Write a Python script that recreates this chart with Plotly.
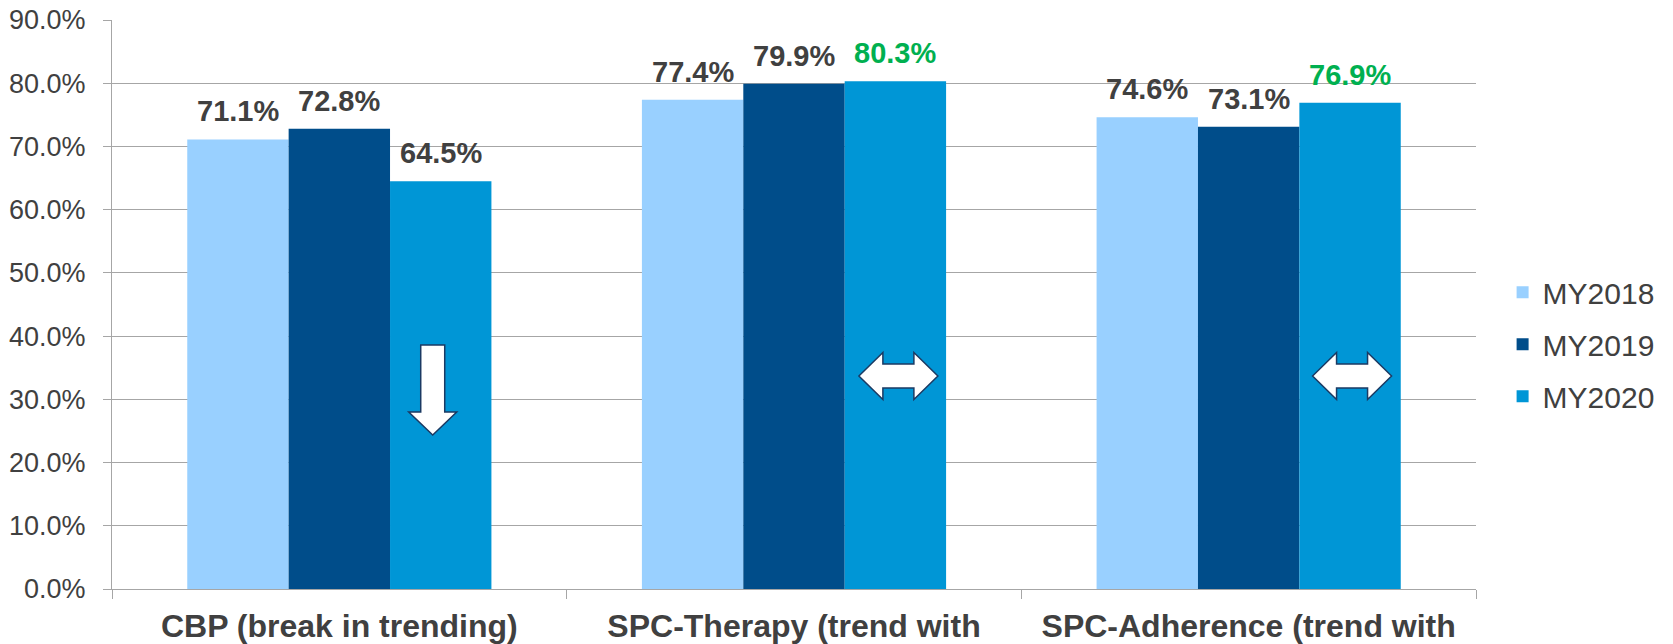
import plotly.graph_objects as go

categories = ["CBP (break in trending)", "SPC-Therapy (trend with", "SPC-Adherence (trend with"]
series_names = ["MY2018", "MY2019", "MY2020"]
my2018 = [0.711, 0.774, 0.746]
my2019 = [0.728, 0.799, 0.731]
my2020 = [0.645, 0.803, 0.769]
label_colors_2020 = ["#404040", "#00B050", "#00B050"]
colors = ["#99D0FF", "#004D8A", "#0096D6"]
y_ticks = [0, 0.1, 0.2, 0.3, 0.4, 0.5, 0.6, 0.7, 0.8, 0.9]

FONT = "Liberation Sans, Arial, sans-serif"
GRID = "#A6A6A6"
TEXT = "#404040"
BARGAP = 0.331

xs = list(range(len(categories)))
series = [my2018, my2019, my2020]

fig = go.Figure()
for name, vals, col in zip(series_names, series, colors):
    fig.add_trace(go.Bar(
        x=xs, y=vals, name=name, marker=dict(color=col, line=dict(width=0)),
        legendgroup=name, hoverinfo="skip",
    ))

bw = (1 - BARGAP) / len(series)
annotations = []
for j, vals in enumerate(series):
    for i, v in enumerate(vals):
        col = label_colors_2020[i] if j == 2 else TEXT
        annotations.append(dict(
            x=i + (j - 1) * bw, y=v, xref="x", yref="y",
            text=f"{v*100:.1f}%", showarrow=False, yanchor="bottom", xanchor="center",
            yshift=10, font=dict(family=FONT, size=29, color=col, weight="bold"),
        ))

# decorative trend arrows (inside MY2020 bars)
px_x = 1.0 / 454.67
px_y = 0.9 / 569.0
OUT = "#1B3A63"
shapes = []
cx = 0 + bw - 8 * px_x
yt, yh, ytip = 0.386, 0.280, 0.2436
sw, hw = 12 * px_x, 24 * px_x
path = (f"M{cx-sw},{yt} L{cx+sw},{yt} L{cx+sw},{yh} L{cx+hw},{yh} L{cx},{ytip} "
        f"L{cx-hw},{yh} L{cx-sw},{yh} Z")
shapes.append(dict(type="path", path=path, xref="x", yref="y",
                   fillcolor="white", line=dict(color=OUT, width=1.5)))
for ci, off in [(1, 3 * px_x), (2, 2 * px_x)]:
    cx = ci + bw + off
    cy = 0.337
    L = 39.5 * px_x
    hl = 24 * px_x
    hh = 23.5 * px_y
    sh = 12 * px_y
    path = (f"M{cx-L},{cy} L{cx-L+hl},{cy+hh} L{cx-L+hl},{cy+sh} L{cx+L-hl},{cy+sh} "
            f"L{cx+L-hl},{cy+hh} L{cx+L},{cy} L{cx+L-hl},{cy-hh} L{cx+L-hl},{cy-sh} "
            f"L{cx-L+hl},{cy-sh} L{cx-L+hl},{cy-hh} Z")
    shapes.append(dict(type="path", path=path, xref="x", yref="y",
                       fillcolor="white", line=dict(color=OUT, width=1.5)))

fig.update_layout(
    width=1673, height=644,
    margin=dict(l=112, r=197, t=20, b=55),
    plot_bgcolor="white", paper_bgcolor="white",
    barmode="group", bargap=BARGAP, bargroupgap=0,
    font=dict(family=FONT, color=TEXT),
    annotations=annotations, shapes=shapes,
    legend=dict(x=1.0195, xanchor="left", y=0.43, yanchor="middle",
                font=dict(family=FONT, size=30, color=TEXT),
                traceorder="grouped", tracegroupgap=10, bgcolor="rgba(0,0,0,0)"),
    xaxis=dict(
        type="linear", range=[-0.5, 2.5], tickvals=xs, ticktext=categories,
        ticks="", showgrid=False, zeroline=False, showline=True, linecolor=GRID, linewidth=1,
        tickfont=dict(family=FONT, size=32, color=TEXT, weight="bold"),
        ticklabelstandoff=9, automargin=False,
        minor=dict(tickvals=[-0.5, 0.5, 1.5, 2.5], ticks="outside", ticklen=9,
                   tickcolor=GRID, tickwidth=1, showgrid=False),
    ),
    yaxis=dict(
        range=[0, 0.9], tickvals=y_ticks, tickformat=".1%",
        showgrid=True, gridcolor=GRID, gridwidth=1, zeroline=False,
        showline=True, linecolor=GRID, linewidth=1,
        ticks="outside", ticklen=8, tickcolor=GRID, tickwidth=1,
        tickfont=dict(family=FONT, size=27, color=TEXT),
        ticklabelstandoff=12, automargin=False,
    ),
)

fig.write_html("out.html", config={"displayModeBar": False},
               post_script="document.body.style.margin='0px';document.body.style.overflow='hidden';")
